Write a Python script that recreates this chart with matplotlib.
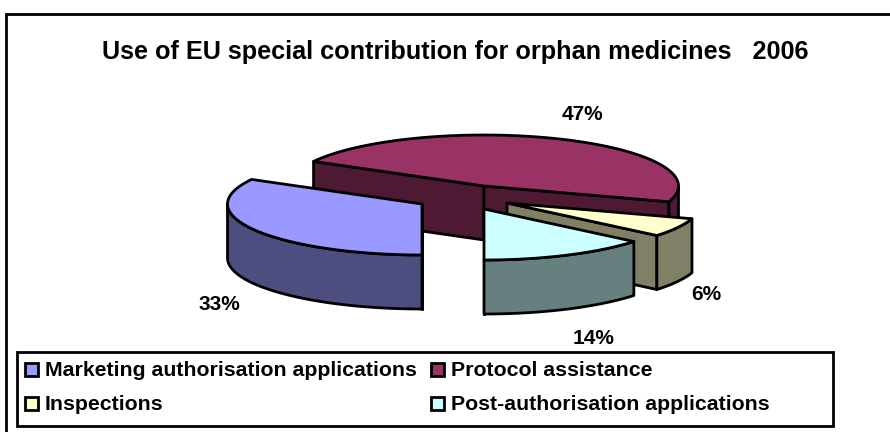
import numpy as np
import matplotlib
matplotlib.use("Agg")
import matplotlib.pyplot as plt
from matplotlib.patches import Polygon, Rectangle

plt.rcParams['font.family'] = ['Liberation Sans', 'DejaVu Sans']

# --- data ---
categories = ["Marketing authorisation applications", "Protocol assistance",
              "Inspections", "Post-authorisation applications"]
shares = [33, 47, 6, 14]
pct_labels = ["33%", "47%", "6%", "14%"]
title = "Use of EU special contribution for orphan medicines   2006"

# --- style / layout ---
top_colors = ["#9999FF", "#993366", "#FFFFCC", "#CCFFFF"]
side_colors = ["#4D4D80", "#4D1933", "#808066", "#668080"]
apex_px = [(422, 204), (484, 186), (507, 203), (484, 209)]
label_px = [(219, 304), (582, 115), (706, 294), (594, 339)]
legend_px = [(25, 370), (431, 370), (25, 404), (431, 404)]
draw_order = [1, 0, 2, 3]
RX, RY, DEPTH = 194.5, 51, 54
LW = 2.0

fig = plt.figure(figsize=(8.9, 4.32), dpi=100)
ax = fig.add_axes([0, 0, 1, 1])
ax.set_xlim(0, 890)
ax.set_ylim(432, 0)
ax.axis("off")

# outer frame: the right and bottom edges fall outside the picture
ax.add_patch(Rectangle((6, 14), 900, 440, fc="white", ec="black", lw=LW))


def arc(center, a0, a1):
    t = np.radians(np.linspace(a0, a1, 80))
    return np.column_stack([center[0] + RX * np.cos(t), center[1] - RY * np.sin(t)])


def shade(pts, color, z):
    ax.add_patch(Polygon(pts, closed=True, fc=color, ec="black", lw=LW, joinstyle="round", zorder=z))


def extrude(a, b, color, z):
    pts = np.vstack([a, b, b + [0, DEPTH], a + [0, DEPTH]])
    shade(pts, color, z)


# clockwise from the bottom of the ellipse
edges = 270 - np.cumsum([0] + shares) * 3.6
for rank, i in enumerate(draw_order):
    a0, a1 = edges[i], edges[i + 1]      # a0 > a1
    c = np.array(apex_px[i], float)
    z = 2 + rank
    # cut faces, drawn when they look towards the viewer
    for ang, sign in ((a0, 1), (a1, -1)):
        e = arc(c, ang, ang)[0]
        if np.sin(np.radians(ang + sign * 90)) < 0:
            extrude(c, e, side_colors[i], z)
    # outer wall: only the lower half of the ellipse
    lo, hi = min(a0, a1), max(a0, a1)
    for w0, w1 in ((180, 360), (-180, 0)):
        s, f = max(lo, w0), min(hi, w1)
        if f > s:
            pts = arc(c, s, f)
            shade(np.vstack([pts, (pts + [0, DEPTH])[::-1]]), side_colors[i], z)
    # top
    shade(np.vstack([c, arc(c, a0, a1)]), top_colors[i], z + 0.5)

for (x, y), s in zip(label_px, pct_labels):
    ax.text(x, y, s, ha="center", va="center", fontsize=15, fontweight="bold", zorder=10)

ax.text(455, 52, title, ha="center", va="center", fontsize=18.2, fontweight="bold", zorder=10)

ax.add_patch(Rectangle((17, 352), 816, 74, fc="white", ec="black", lw=LW, zorder=11))
for (x, y), name, col in zip(legend_px, categories, top_colors):
    ax.add_patch(Rectangle((x, y - 7), 13, 13, fc=col, ec="black", lw=LW, zorder=12))
    ax.text(x + 20, y + 0.5, name, ha="left", va="center", fontsize=15.3, fontweight="bold", zorder=12)

fig.savefig("out.png", dpi=100)
